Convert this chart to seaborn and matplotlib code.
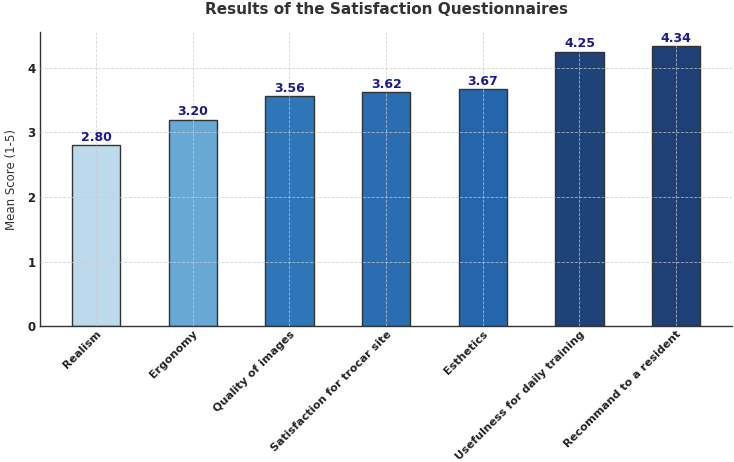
import pandas as pd
import seaborn as sns
import matplotlib.pyplot as plt

categories = ["Realism", "Ergonomy", "Quality of images", "Satisfaction for trocar site",
              "Esthetics", "Usefulness for daily training", "Recommand to a resident"]
scores = [2.80, 3.20, 3.56, 3.62, 3.67, 4.25, 4.34]
colors = ["#bdd9ec", "#67a9d4", "#2e76b7", "#2a6db0", "#2565ab", "#1f4379", "#1f4077"]

df = pd.DataFrame({"Criterion": categories, "Score": scores})

sns.set_style("white")
plt.rcParams['font.family'] = ['DejaVu Sans']
fig, ax = plt.subplots(figsize=(7.34, 4.62), dpi=100)
fig.subplots_adjust(left=0.055, right=0.997, bottom=0.294, top=0.931)

sns.barplot(data=df, x="Criterion", y="Score", hue="Criterion", palette=colors,
            width=0.5, edgecolor="#333333", linewidth=1, legend=False, ax=ax, saturation=1)

for i, v in enumerate(scores):
    ax.text(i, v + 0.02, f"{v:.2f}", ha="center", va="bottom", fontsize=9,
            fontweight="bold", color="#1a1a8c")

ax.set_ylim(0, max(scores) * 1.05)
ax.set_xlim(-0.575, 6.575)
ax.set_title("Results of the Satisfaction Questionnaires", fontsize=11,
             fontweight="bold", color="#333333", pad=13)
ax.set_ylabel("Mean Score (1-5)", fontsize=8.5, color="#333333", labelpad=7)
ax.set_xlabel("")
ax.set_yticks([0, 1, 2, 3, 4])
ax.tick_params(axis="both", direction="in", length=3, colors="#222222")
ax.tick_params(axis="x", labelsize=8, pad=2)
ax.tick_params(axis="y", labelsize=8.5)
plt.setp(ax.get_xticklabels(), rotation=45, ha="right", rotation_mode="anchor", fontweight="bold")
plt.setp(ax.get_yticklabels(), fontweight="bold")
ax.grid(True, linestyle="--", linewidth=0.6, color="#cccccc", alpha=0.8)
ax.set_axisbelow(False)
for s in ["top", "right"]:
    ax.spines[s].set_visible(False)
for s in ["left", "bottom"]:
    ax.spines[s].set_color("#333333")
    ax.spines[s].set_linewidth(1)

plt.savefig("out.png", dpi=100)
